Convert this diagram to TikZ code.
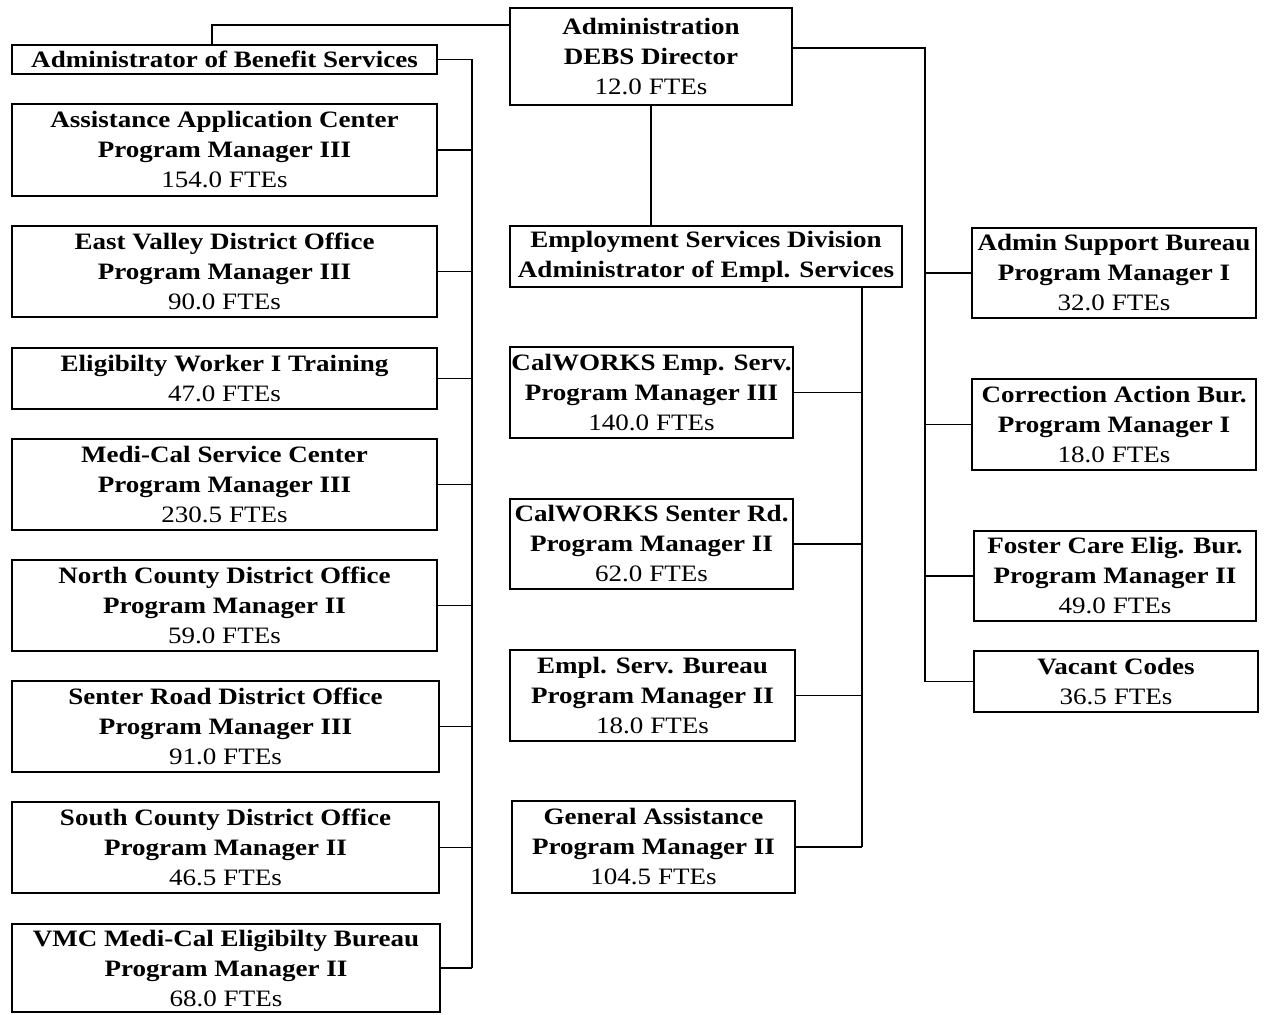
\documentclass[tikz,border=0pt]{standalone}
\usepackage{fontspec}
\setmainfont[FakeStretch=1.15]{Liberation Serif}

\tikzset{
  unit/.style={draw, line width=1.6pt, inner sep=0pt, align=center,
    font=\fontsize{23.5}{30}\selectfont\bfseries},
  link/.style={line width=1.2pt}
}

\begin{document}
\begin{tikzpicture}[x=1pt,y=-1pt]
  \useasboundingbox (0,0) rectangle (1265,1014);

  % Top of the chart
  \node[unit, minimum width=282pt, minimum height=97pt] (admin) at (651,56.5)
    {Administration\\DEBS Director\\\mdseries 12.0 FTEs};
  \node[unit, minimum width=425pt, minimum height=29pt] (abs) at (224.5,59.5)
    {Administrator of Benefit Services};
  \node[unit, minimum width=392pt, minimum height=61pt] (esd) at (706,256.5)
    {Employment Services Division\\Administrator of Empl. Services};

  % Benefit services column
  \node[unit, minimum width=425pt, minimum height=92pt] (aac) at (224.5,150)
    {Assistance Application Center\\Program Manager III\\\mdseries 154.0 FTEs};
  \node[unit, minimum width=425pt, minimum height=91pt] (ev) at (224.5,271.5)
    {East Valley District Office\\Program Manager III\\\mdseries 90.0 FTEs};
  \node[unit, minimum width=425pt, minimum height=61pt] (ew) at (224.5,378.5)
    {Eligibilty Worker I Training\\\mdseries 47.0 FTEs};
  \node[unit, minimum width=425pt, minimum height=91pt] (mc) at (224.5,484.5)
    {Medi-Cal Service Center\\Program Manager III\\\mdseries 230.5 FTEs};
  \node[unit, minimum width=425pt, minimum height=91pt] (nc) at (224.5,605.5)
    {North County District Office\\Program Manager II\\\mdseries 59.0 FTEs};
  \node[unit, minimum width=427pt, minimum height=91pt] (sr) at (225.5,726.5)
    {Senter Road District Office\\Program Manager III\\\mdseries 91.0 FTEs};
  \node[unit, minimum width=427pt, minimum height=91pt] (sc) at (225.5,847.5)
    {South County District Office\\Program Manager II\\\mdseries 46.5 FTEs};
  \node[unit, minimum width=428pt, minimum height=88pt] (vmc) at (226,968)
    {VMC Medi-Cal Eligibilty Bureau\\Program Manager II\\\mdseries 68.0 FTEs};

  % Employment services column
  \node[unit, minimum width=283pt, minimum height=91pt] (cwe) at (651.5,392.5)
    {CalWORKS Emp. Serv.\\Program Manager III\\\mdseries 140.0 FTEs};
  \node[unit, minimum width=283pt, minimum height=90pt] (cws) at (651.5,544)
    {CalWORKS Senter Rd.\\Program Manager II\\\mdseries 62.0 FTEs};
  \node[unit, minimum width=285pt, minimum height=91pt] (esb) at (652.5,695.5)
    {Empl. Serv. Bureau\\Program Manager II\\\mdseries 18.0 FTEs};
  \node[unit, minimum width=283pt, minimum height=92pt] (ga) at (653.5,847)
    {General Assistance\\Program Manager II\\\mdseries 104.5 FTEs};

  % Staff column
  \node[unit, minimum width=284pt, minimum height=90pt] (asb) at (1114,273)
    {Admin Support Bureau\\Program Manager I\\\mdseries 32.0 FTEs};
  \node[unit, minimum width=284pt, minimum height=91pt] (cab) at (1114,424.5)
    {Correction Action Bur.\\Program Manager I\\\mdseries 18.0 FTEs};
  \node[unit, minimum width=282pt, minimum height=90pt] (fc) at (1115,576)
    {Foster Care Elig. Bur.\\Program Manager II\\\mdseries 49.0 FTEs};
  \node[unit, minimum width=284pt, minimum height=61pt] (vc) at (1116,681.5)
    {Vacant Codes\\\mdseries 36.5 FTEs};

  % Bus lines
  \coordinate (bend) at (212,25);
  \coordinate (lbus) at (472,0);
  \coordinate (mbus) at (862,0);
  \coordinate (rbus) at (925,48);

  \draw[link] (admin.west |- bend) -- (bend) -- (bend |- abs.north);
  \draw[link] (admin.south) -- (admin.south |- esd.north);

  \draw[link] (abs.east) -- (abs.east -| lbus) -- (lbus |- vmc.east);
  \foreach \n in {aac,ev,ew,mc,nc,sr,sc,vmc}
    \draw[link] (\n.east) -- (\n.east -| lbus);

  \draw[link] (mbus |- esd.south) -- (mbus |- ga.east);
  \foreach \n in {cwe,cws,esb,ga}
    \draw[link] (\n.east) -- (\n.east -| mbus);

  \draw[link] (admin.east |- rbus) -- (rbus) -- (rbus |- vc.west);
  \foreach \n in {asb,cab,fc,vc}
    \draw[link] (rbus |- \n.west) -- (\n.west);
\end{tikzpicture}
\end{document}
